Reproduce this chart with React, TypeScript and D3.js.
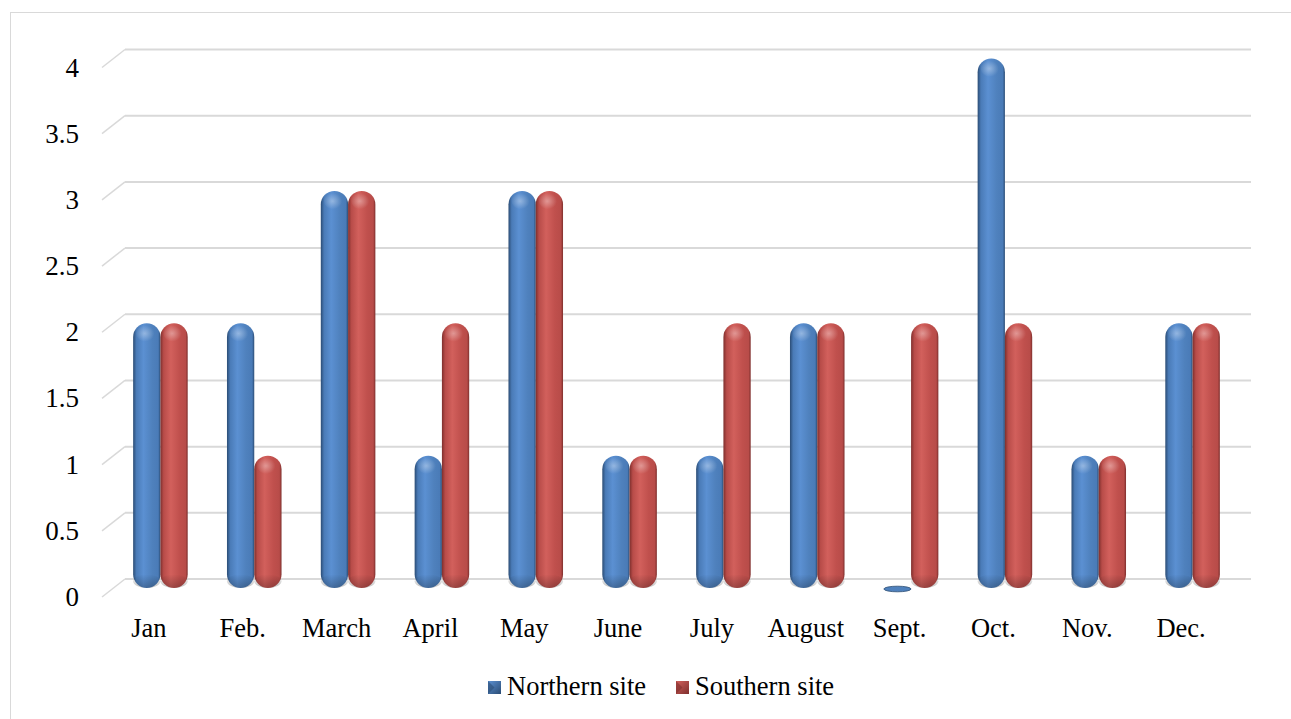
import React from "react";
import * as d3 from "d3";

const months = ["Jan", "Feb.", "March", "April", "May", "June", "July", "August", "Sept.", "Oct.", "Nov.", "Dec."];
const northern = [2, 2, 3, 1, 3, 1, 1, 2, 0, 4, 1, 2];
const southern = [2, 1, 3, 2, 3, 1, 2, 2, 2, 2, 1, 2];
const seriesNames = ["Northern site", "Southern site"];
const yTicks = [0, 0.5, 1, 1.5, 2, 2.5, 3, 3.5, 4];

const W = 1291;
const H = 719;
const backLeft = 125;
const backRight = 1251;
const depthDx = -23;
const depthDy = 18;

const colors = [
  { dark: "#2b4c74", mid: "#4a7bb7", light: "#5b90d2", base: "#4f81bd" },
  { dark: "#7e2f2d", mid: "#b84c49", light: "#d2605c", base: "#c0504d" },
];

export default function App() {
  const y = d3.scaleLinear().domain([0, 4]).range([579, 49.5]);
  const xBack = d3.scaleBand().domain(months).range([backLeft, backRight]);
  const inner = d3.scaleBand().domain(["0", "1"]).range([0, xBack.bandwidth()]).paddingOuter(0.72).paddingInner(0);
  const midDx = depthDx / 2;
  const midDy = depthDy / 2;
  const bw = inner.bandwidth();
  const r = bw / 2;
  const fontStyle = { fontFamily: "'Liberation Serif', 'Times New Roman', 'DejaVu Serif', serif" };
  const data = [northern, southern];

  return (
    <svg width={W} height={H} style={{ position: "absolute", left: 0, top: 0 }}>
      <defs>
        {colors.map((c, i) => (
          <React.Fragment key={i}>
            <linearGradient id={`cyl${i}`} x1="0" x2="1" y1="0" y2="0">
              <stop offset="0%" stopColor={c.dark} />
              <stop offset="12%" stopColor={c.mid} />
              <stop offset="38%" stopColor={c.light} />
              <stop offset="70%" stopColor={c.base} />
              <stop offset="92%" stopColor={c.mid} />
              <stop offset="100%" stopColor={c.dark} />
            </linearGradient>
            <linearGradient id={`leg${i}`} x1="0" x2="1" y1="0" y2="1">
              <stop offset="0%" stopColor={c.light} />
              <stop offset="100%" stopColor={c.dark} />
            </linearGradient>
          </React.Fragment>
        ))}
        <radialGradient id="hl" cx="0.45" cy="0.5" r="0.5">
          <stop offset="0%" stopColor="#ffffff" stopOpacity={0.35} />
          <stop offset="100%" stopColor="#ffffff" stopOpacity={0} />
        </radialGradient>
        <linearGradient id="bottomShade" x1="0" x2="0" y1="0" y2="1">
          <stop offset="0%" stopColor="#000" stopOpacity={0} />
          <stop offset="100%" stopColor="#000" stopOpacity={0.25} />
        </linearGradient>
      </defs>
      <rect x={10.5} y={12.5} width={W + 10} height={H + 10} fill="#fff" stroke="#d9d9d9" strokeWidth={1} />

      {yTicks.map((t) => (
        <g key={t}>
          <line x1={backLeft} x2={backRight} y1={y(t)} y2={y(t)} stroke="#d9d9d9" strokeWidth={2} />
          <line x1={backLeft} x2={backLeft + depthDx} y1={y(t)} y2={y(t) + depthDy} stroke="#d9d9d9" strokeWidth={1.5} />
          <text x={79} y={y(t) + depthDy + 9} textAnchor="end" style={fontStyle} fontSize={27} fill="#000">
            {t}
          </text>
        </g>
      ))}

      {months.map((m, mi) => (
        <g key={m}>
          {data.map((series, si) => {
            const v = series[mi];
            const x0 = (xBack(m) as number) + inner(String(si))! + midDx;
            const cx = x0 + r;
            const top = y(v) + midDy;
            const bottom = y(0) + midDy;
            if (v === 0) {
              return (
                <ellipse key={si} cx={cx} cy={bottom + 1} rx={r} ry={2.8} fill={colors[si].base} stroke={colors[si].dark} strokeWidth={0.8} />
              );
            }
            return (
              <g key={si}>
                <rect x={x0} y={top} width={bw} height={bottom - top} rx={r} ry={r} fill={`url(#cyl${si})`} />
                <rect x={x0} y={bottom - r} width={bw} height={r} rx={r} ry={r} fill="url(#bottomShade)" />
                <ellipse cx={cx - 1} cy={top + r * 0.75} rx={r * 0.7} ry={r * 0.6} fill="url(#hl)" />
              </g>
            );
          })}
          <text x={(xBack(m) as number) + xBack.bandwidth() / 2 + depthDx} y={637} textAnchor="middle" style={fontStyle} fontSize={26.5} fill="#000">
            {m}
          </text>
        </g>
      ))}

      {seriesNames.map((s, i) => {
        const lx = i === 0 ? 488 : 676;
        return (
          <g key={s}>
            <rect x={lx} y={681} width={13} height={13} fill={`url(#leg${i})`} />
            <path d={`M${lx},${681} L${lx + 6.5},${687.5} L${lx},${694} Z`} fill={colors[i].dark} opacity={0.6} />
            <text x={lx + 19} y={695} style={fontStyle} fontSize={26.5} fill="#000">
              {s}
            </text>
          </g>
        );
      })}
    </svg>
  );
}
